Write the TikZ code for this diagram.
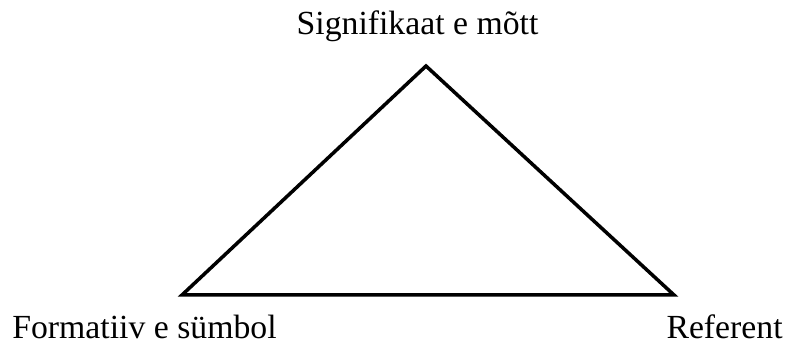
\documentclass[tikz,border=0pt]{standalone}
\usepackage{fontspec}
\setmainfont{Liberation Serif}
\usetikzlibrary{positioning}

\begin{document}
\begin{tikzpicture}
    % Define styles
    \tikzstyle{term}=[inner sep=0pt, font=\fontsize{19.2}{23}\selectfont]
    \tikzstyle{side}=[line width=2pt, line join=miter]
    \useasboundingbox (0,0) rectangle (15.76,6.94);

    % Corners
    \coordinate (sig) at (8.52,5.62);
    \coordinate (form) at (3.64,1.04);
    \coordinate (ref) at (13.48,1.04);

    % Labels
    \node[term, anchor=base] at (8.35,6.24) (sigtext) {Signifikaat e mõtt};
    \node[term, anchor=base west] at (0.24,0.16) (formtext) {Formatiiv e sümbol};
    \node[term, anchor=base east] at (15.66,0.16) (reftext) {Referent};

    % Triangle
    \draw[side] (form) -- (sig) -- (ref) -- cycle;
\end{tikzpicture}
\end{document}
